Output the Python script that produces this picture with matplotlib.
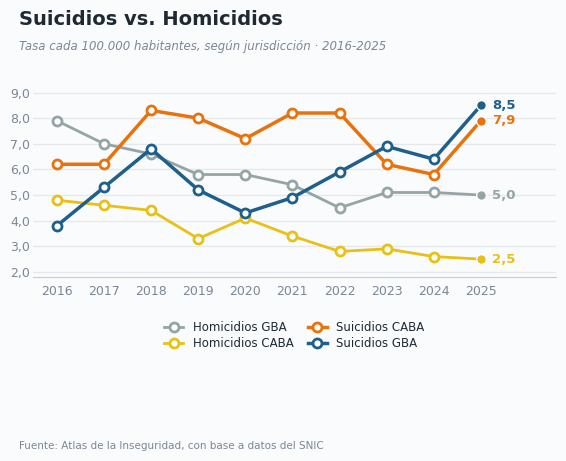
import matplotlib.pyplot as plt

years = [2016, 2017, 2018, 2019, 2020, 2021, 2022, 2023, 2024, 2025]
hom_gba = [7.9, 7.0, 6.6, 5.8, 5.8, 5.4, 4.5, 5.1, 5.1, 5.0]
hom_caba = [4.8, 4.6, 4.4, 3.3, 4.1, 3.4, 2.8, 2.9, 2.6, 2.5]
sui_caba = [6.2, 6.2, 8.3, 8.0, 7.2, 8.2, 8.2, 6.2, 5.8, 7.9]
sui_gba = [3.8, 5.3, 6.8, 5.2, 4.3, 4.9, 5.9, 6.9, 6.4, 8.5]

series = [
    ("Homicidios GBA", hom_gba, "#95a5a6", 2.0),
    ("Homicidios CABA", hom_caba, "#e9c016", 2.0),
    ("Suicidios CABA", sui_caba, "#e8720c", 2.5),
    ("Suicidios GBA", sui_gba, "#1f5f8b", 2.5),
]

bg = "#f9fbfd"
fig = plt.figure(figsize=(5.66, 4.61), dpi=100, facecolor=bg)
ax = fig.add_axes([0.058, 0.399, 0.924, 0.417], facecolor=bg)

for name, vals, color, lw in series:
    ax.plot(years[:-1], vals[:-1], color=color, lw=lw, marker="o", ms=6.5,
            mfc="white", mec=color, mew=2, label=name, zorder=3)
    ax.plot(years[-2:], vals[-2:], color=color, lw=lw, zorder=2)
    ax.plot(years[-1], vals[-1], "o", color=color, ms=7, mec="white",
            mew=1, zorder=4)
    ax.annotate(f"{vals[-1]:.1f}".replace(".", ","), (years[-1], vals[-1]),
                xytext=(8, 0), textcoords="offset points", va="center",
                ha="left", color=color, fontsize=9.5, fontweight="bold")

ax.set_xlim(2015.49, 2026.59)
ax.set_ylim(1.8, 9.3)
ax.set_xticks(years)
ax.set_yticks([2, 3, 4, 5, 6, 7, 8, 9])
ax.set_yticklabels([f"{v:.1f}".replace(".", ",") for v in range(2, 10)])
ax.tick_params(axis="both", length=0, colors="#7b8794", labelsize=9)
ax.tick_params(axis="x", pad=6)
ax.tick_params(axis="y", pad=2)
ax.grid(axis="y", color="#e5e8ec", lw=1)
for s in ["top", "right", "left"]:
    ax.spines[s].set_visible(False)
ax.spines["bottom"].set_color("#c5cbd3")

handles, labels = ax.get_legend_handles_labels()
fig.legend(handles, labels, loc="center", bbox_to_anchor=(0.52, 0.272),
           ncol=2, frameon=False, fontsize=8.5, handlelength=1.6,
           columnspacing=1.2, labelspacing=0.3, labelcolor="#1f2933")

fig.text(0.034, 0.958, "Suicidios vs. Homicidios", fontsize=14,
         fontweight="bold", color="#1f2933", va="center")
fig.text(0.034, 0.9, "Tasa cada 100.000 habitantes, según jurisdicción · 2016-2025",
         fontsize=8.5, style="italic", color="#7b8794", va="center")
fig.text(0.034, 0.033, "Fuente: Atlas de la Inseguridad, con base a datos del SNIC",
         fontsize=7.5, color="#7b8794", va="center")

fig.savefig("out.png", dpi=100, facecolor=bg)
